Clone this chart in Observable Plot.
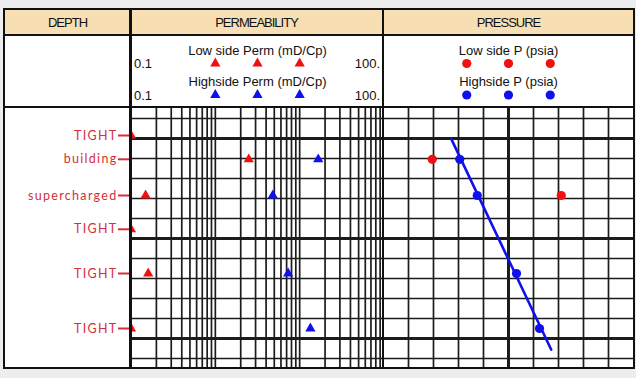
<!DOCTYPE html>
<html><head><meta charset="utf-8">
<script src="https://cdn.jsdelivr.net/npm/d3@7"></script>
<script src="https://cdn.jsdelivr.net/npm/@observablehq/plot@0.6"></script>
<style>
html,body{margin:0;padding:0;background:#ededed;}
#chart{position:relative;width:636px;height:378px;background:#ededed;overflow:hidden;font-family:"Liberation Sans",Arial,sans-serif;}
.box{position:absolute;box-sizing:border-box;}
.hdr{position:absolute;top:10px;height:24px;display:flex;align-items:center;justify-content:center;font-size:13px;letter-spacing:-1px;color:#111;}
.plotwrap{position:absolute;}
.plotwrap svg{overflow:visible;background:transparent;}
</style></head><body><div id="chart"></div>
<script>
// ---------------- data ----------------
const headers = ["DEPTH", "PERMEABILITY", "PRESSURE"];
const depthLabels = ["TIGHT", "building", "supercharged", "TIGHT", "TIGHT", "TIGHT"];
const depths = [998.5, 1010.4, 1028.5, 1045.4, 1067.5, 1095];
const permLow = [0.1, 2.49, 0.149, 0.1, 0.16, 0.1];
const permHigh = [null, 16.6, 4.8, null, 7.3, 13.4];
const pressLow = [null, 2195, 2711, null, null, null];
const pressHigh = [null, 2305, 2375, null, 2532, 2624];
const trendDepth = [1000.2, 1105.6];
const trendPress = [2271, 2671];

const depthDomain = [984.5, 1114.5];
const depthMinor = [990, 1010, 1020, 1030, 1040, 1060, 1070, 1080, 1090, 1110];
const depthMajor = [1000, 1050, 1100];

const permDomain = [0.1, 100];
const permGrid = [0.2, 0.3, 0.4, 0.5, 0.6, 0.7, 0.8, 0.9, 1, 2, 3, 4, 5, 6, 7, 8, 9, 10, 20, 30, 40, 50, 60, 70, 80, 90];
const permScaleLabels = ["0.1", "100."];
const permLegendLow = "Low side Perm (mD/Cp)";
const permLegendHigh = "Highside Perm (mD/Cp)";
const permLegendSamples = [1, 3.16, 10];

const pressDomain = [2000, 3000];
const pressMinor = [2100, 2200, 2300, 2400, 2600, 2700, 2800, 2900];
const pressMajor = [2500];
const pressLegendLow = "Low side P (psia)";
const pressLegendHigh = "Highside P (psia)";
const pressLegendSamples = [2333, 2500, 2667];

// ---------------- styles ----------------
const RED = "#f01010";
const BLUE = "#1010ee";
const LABEL_RED = "#d4303a";
const GRID = "#1c1c1c";
const FONT = "Liberation Sans, Arial, sans-serif";

const rows = depths.map((d, i) => ({
  depth: d, label: depthLabels[i], permLow: permLow[i], permHigh: permHigh[i],
  pressLow: pressLow[i], pressHigh: pressHigh[i]
}));
const trend = trendDepth.map((d, i) => ({depth: d, press: trendPress[i]}));

const root = document.getElementById("chart");
function box(css) { const d = document.createElement("div"); d.className = "box"; Object.assign(d.style, css); root.appendChild(d); return d; }
function place(svg, left, top) { const w = document.createElement("div"); w.className = "plotwrap"; w.style.left = left + "px"; w.style.top = top + "px"; w.appendChild(svg); root.appendChild(w); }

// background sheet + header band
box({left: "3px", top: "8px", width: "632px", height: "361px", background: "#ffffff"});
box({left: "5px", top: "10px", width: "628px", height: "25px", background: "#f7dfb3"});

const yScale = {domain: depthDomain, reverse: true, axis: null};
const gridMarks = [
  Plot.ruleY(depthMinor, {stroke: GRID, strokeWidth: 1.7}),
  Plot.ruleY(depthMajor, {stroke: GRID, strokeWidth: 3})
];
const legendText = {fontSize: 13, fontFamily: FONT, fill: "#111", lineAnchor: "middle"};

// depth labels column
const depthPlot = Plot.plot({
  width: 127, height: 332, marginTop: 72, marginBottom: 0, marginLeft: 115, marginRight: 0,
  y: yScale,
  style: {background: "transparent", overflow: "visible", letterSpacing: "1.3px"},
  marks: [
    Plot.tickY(rows, {y: "depth", stroke: LABEL_RED, strokeWidth: 2}),
    Plot.text(rows, {y: "depth", text: "label", frameAnchor: "left", textAnchor: "end", dx: -1,
      fill: LABEL_RED, fontSize: 12.5, fontFamily: "Lato, Open Sans, sans-serif"})
  ]
});
place(depthPlot, 3, 35);

// permeability track
const permPlot = Plot.plot({
  width: 254, height: 332, marginTop: 72, marginBottom: 0, marginLeft: 0.5, marginRight: 0.5,
  x: {type: "log", domain: permDomain, axis: null},
  y: yScale,
  style: {background: "transparent", overflow: "visible"},
  marks: [
    Plot.ruleX(permGrid, {stroke: GRID, strokeWidth: 1.7}),
    ...gridMarks,
    Plot.text([permLegendLow], {...legendText, frameAnchor: "top", dy: -57}),
    Plot.text([permLegendHigh], {...legendText, frameAnchor: "top", dy: -26}),
    Plot.text([permScaleLabels[0]], {...legendText, frameAnchor: "top-left", textAnchor: "start", dx: 3, dy: -44}),
    Plot.text([permScaleLabels[1]], {...legendText, frameAnchor: "top-right", textAnchor: "end", dx: -4, dy: -44}),
    Plot.text([permScaleLabels[0]], {...legendText, frameAnchor: "top-left", textAnchor: "start", dx: 3, dy: -12}),
    Plot.text([permScaleLabels[1]], {...legendText, frameAnchor: "top-right", textAnchor: "end", dx: -4, dy: -12}),
    Plot.dot(permLegendSamples, {x: d => d, frameAnchor: "top", dy: -44, symbol: "triangle", r: 3.8, fill: RED}),
    Plot.dot(permLegendSamples, {x: d => d, frameAnchor: "top", dy: -12.5, symbol: "triangle", r: 3.8, fill: BLUE}),
    Plot.dot(rows.filter(d => d.permLow != null), {x: "permLow", y: "depth", symbol: "triangle", r: 3.8, fill: RED, clip: true}),
    Plot.dot(rows.filter(d => d.permHigh != null), {x: "permHigh", y: "depth", symbol: "triangle", r: 3.8, fill: BLUE, clip: true})
  ]
});
place(permPlot, 130, 35);

// pressure track
const pressPlot = Plot.plot({
  width: 250, height: 332, marginTop: 72, marginBottom: 0, marginLeft: 0, marginRight: 0,
  x: {domain: pressDomain, axis: null},
  y: yScale,
  style: {background: "transparent", overflow: "visible"},
  marks: [
    Plot.ruleX(pressMinor, {stroke: GRID, strokeWidth: 1.7}),
    Plot.ruleX(pressMajor, {stroke: GRID, strokeWidth: 3}),
    ...gridMarks,
    Plot.text([pressLegendLow], {...legendText, frameAnchor: "top", dy: -57}),
    Plot.text([pressLegendHigh], {...legendText, frameAnchor: "top", dy: -26}),
    Plot.dot(pressLegendSamples, {x: d => d, frameAnchor: "top", dy: -44, r: 4.6, fill: RED}),
    Plot.dot(pressLegendSamples, {x: d => d, frameAnchor: "top", dy: -12.5, r: 4.6, fill: BLUE}),
    Plot.line(trend, {x: "press", y: "depth", stroke: BLUE, strokeWidth: 2.6}),
    Plot.dot(rows.filter(d => d.pressLow != null), {x: "pressLow", y: "depth", r: 4.6, fill: RED, clip: true}),
    Plot.dot(rows.filter(d => d.pressHigh != null), {x: "pressHigh", y: "depth", r: 4.6, fill: BLUE, clip: true})
  ]
});
place(pressPlot, 383, 35);

// table lines on top
box({left: "3px", top: "8px", width: "632px", height: "361px", border: "2px solid #111"});
box({left: "3px", top: "34px", width: "632px", height: "2px", background: "#111"});
box({left: "3px", top: "105.5px", width: "632px", height: "2.5px", background: "#111"});
box({left: "129px", top: "8px", width: "2.5px", height: "361px", background: "#111"});
box({left: "381.8px", top: "8px", width: "2.5px", height: "361px", background: "#111"});

// headers
const hdrCols = [[5, 125], [131, 251], [384, 249]];
headers.forEach((h, i) => {
  const d = document.createElement("div");
  d.className = "hdr";
  d.style.left = hdrCols[i][0] + "px";
  d.style.width = hdrCols[i][1] + "px";
  d.textContent = h;
  root.appendChild(d);
});
</script>
</body></html>
